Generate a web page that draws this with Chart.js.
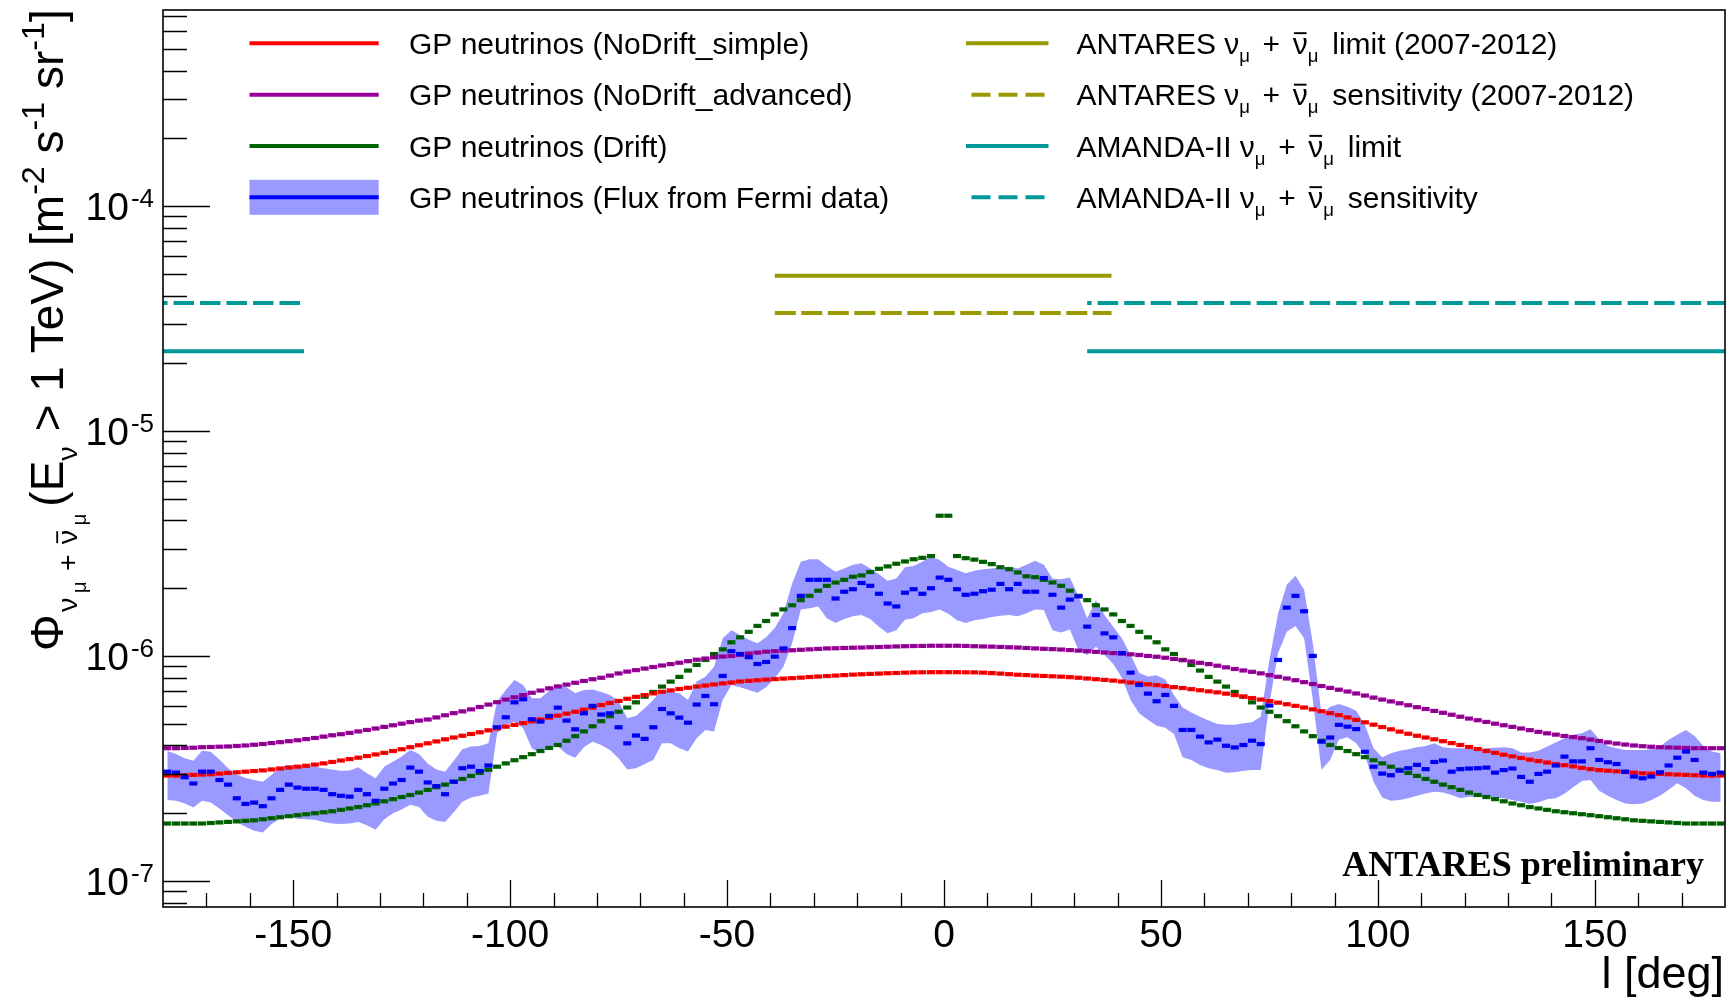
<!DOCTYPE html>
<html>
<head>
<meta charset="utf-8">
<title>Galactic plane neutrino flux vs longitude</title>
<script src="https://cdn.jsdelivr.net/npm/chart.js@4.4.1/dist/chart.umd.min.js"></script>
<style>
  html, body { margin: 0; padding: 0; background: #ffffff; }
  #wrap { width: 1731px; height: 1002px; position: relative; }
  canvas { display: block; }
</style>
</head>
<body>
<div id="wrap"><canvas id="chart" width="1731" height="1002"></canvas></div>
<script>
// ---------------------------------------------------------------------------
// Binning: 180 bins of 2 degrees in galactic longitude, from -180 to 180.
// All flux values below are in units of 1e-7 m^-2 s^-1 sr^-1 (E_nu > 1 TeV),
// one value per bin, ordered from l = -179 to l = +179.
// ---------------------------------------------------------------------------
const UNIT = 1e-7;
const BIN_LOW = -180;
const BIN_WIDTH = 2;

const noDriftSimple = [
  2.94, 2.94, 2.95, 2.96, 2.97, 2.98, 3.00, 3.02, 3.04, 3.06,
  3.08, 3.10, 3.13, 3.16, 3.19, 3.22, 3.25, 3.29, 3.33, 3.38,
  3.43, 3.48, 3.53, 3.59, 3.65, 3.71, 3.78, 3.85, 3.93, 4.01,
  4.09, 4.17, 4.26, 4.34, 4.42, 4.50, 4.58, 4.67, 4.76, 4.85,
  4.94, 5.03, 5.12, 5.22, 5.32, 5.43, 5.54, 5.65, 5.77, 5.89,
  6.05, 6.18, 6.31, 6.45, 6.58, 6.70, 6.82, 6.93, 7.03, 7.13,
  7.22, 7.31, 7.39, 7.47, 7.55, 7.62, 7.70, 7.75, 7.80, 7.85,
  7.89, 7.93, 7.97, 8.01, 8.06, 8.10, 8.14, 8.18, 8.22, 8.26,
  8.29, 8.32, 8.35, 8.38, 8.40, 8.43, 8.45, 8.46, 8.47, 8.47,
  8.47, 8.47, 8.46, 8.45, 8.43, 8.39, 8.35, 8.30, 8.25, 8.22,
  8.18, 8.15, 8.12, 8.09, 8.05, 8.00, 7.94, 7.88, 7.83, 7.77,
  7.70, 7.62, 7.55, 7.48, 7.42, 7.35, 7.27, 7.20, 7.12, 7.04,
  6.96, 6.89, 6.80, 6.70, 6.60, 6.50, 6.40, 6.30, 6.20, 6.10,
  6.00, 5.90, 5.79, 5.68, 5.57, 5.46, 5.33, 5.20, 5.07, 4.95,
  4.83, 4.72, 4.61, 4.51, 4.42, 4.34, 4.26, 4.18, 4.10, 4.02,
  3.94, 3.86, 3.78, 3.71, 3.64, 3.58, 3.52, 3.46, 3.41, 3.36,
  3.31, 3.27, 3.23, 3.18, 3.14, 3.11, 3.09, 3.07, 3.05, 3.03,
  3.01, 3.00, 2.99, 2.98, 2.97, 2.96, 2.95, 2.94, 2.94, 2.94
];

const noDriftAdvanced = [
  3.89, 3.89, 3.90, 3.91, 3.93, 3.94, 3.95, 3.96, 3.98, 4.00,
  4.03, 4.06, 4.10, 4.14, 4.18, 4.22, 4.27, 4.32, 4.38, 4.44,
  4.49, 4.55, 4.62, 4.69, 4.76, 4.84, 4.92, 5.00, 5.08, 5.16,
  5.22, 5.33, 5.45, 5.57, 5.67, 5.79, 5.93, 6.08, 6.23, 6.40,
  6.55, 6.70, 6.86, 7.02, 7.18, 7.32, 7.46, 7.60, 7.74, 7.88,
  8.00, 8.18, 8.36, 8.52, 8.65, 8.79, 8.93, 9.07, 9.20, 9.33,
  9.48, 9.62, 9.74, 9.86, 9.94, 10.0, 10.1, 10.25, 10.35, 10.45,
  10.5, 10.55, 10.6, 10.65, 10.7, 10.75, 10.8, 10.82, 10.85, 10.88,
  10.9, 10.93, 10.96, 10.99, 11.02, 11.05, 11.07, 11.08, 11.1, 11.1,
  11.1, 11.1, 11.08, 11.05, 11.02, 11.0, 10.97, 10.93, 10.9, 10.85,
  10.8, 10.76, 10.72, 10.68, 10.62, 10.56, 10.5, 10.43, 10.36, 10.3,
  10.24, 10.17, 10.1, 10.0, 9.92, 9.82, 9.7, 9.58, 9.45, 9.32,
  9.2, 9.05, 8.9, 8.75, 8.62, 8.5, 8.37, 8.22, 8.08, 7.94,
  7.8, 7.65, 7.5, 7.35, 7.21, 7.08, 6.95, 6.81, 6.67, 6.53,
  6.4, 6.28, 6.16, 6.04, 5.92, 5.81, 5.7, 5.59, 5.48, 5.37,
  5.27, 5.18, 5.09, 5.0, 4.92, 4.84, 4.76, 4.68, 4.6, 4.53,
  4.47, 4.41, 4.36, 4.31, 4.25, 4.19, 4.13, 4.08, 4.04, 4.0,
  3.97, 3.95, 3.93, 3.92, 3.91, 3.9, 3.89, 3.89, 3.89, 3.89
];

const drift = [
  1.80, 1.80, 1.80, 1.80, 1.80, 1.81, 1.82, 1.83, 1.84, 1.85,
  1.86, 1.88, 1.90, 1.92, 1.94, 1.96, 1.98, 2.00, 2.02, 2.04,
  2.07, 2.10, 2.13, 2.17, 2.21, 2.26, 2.31, 2.36, 2.41, 2.47,
  2.54, 2.61, 2.68, 2.76, 2.84, 2.93, 3.02, 3.12, 3.22, 3.33,
  3.44, 3.55, 3.66, 3.78, 3.90, 4.02, 4.20, 4.40, 4.62, 4.87,
  5.13, 5.40, 5.65, 5.90, 6.22, 6.59, 6.92, 7.31, 7.69, 8.07,
  8.61, 9.12, 9.60, 10.2, 10.7, 11.5, 12.1, 12.8, 13.6, 14.3,
  15.3, 16.1, 16.8, 17.7, 18.5, 19.5, 20.5, 21.2, 21.8, 22.5,
  22.8, 23.6, 24.4, 25.0, 25.7, 26.3, 26.9, 27.3, 27.8, 42.0,
  42.0, 27.8, 27.2, 26.8, 26.2, 25.6, 24.8, 24.3, 23.5, 22.6,
  22.4, 21.8, 21.2, 20.5, 19.5, 18.5, 17.7, 16.8, 16.1, 15.3,
  14.3, 13.6, 12.8, 12.1, 11.5, 10.7, 10.2, 9.60, 9.12, 8.61,
  8.07, 7.69, 7.31, 6.92, 6.59, 6.22, 5.90, 5.65, 5.40, 5.13,
  4.87, 4.62, 4.40, 4.20, 4.02, 3.90, 3.78, 3.66, 3.55, 3.44,
  3.33, 3.22, 3.12, 3.02, 2.93, 2.84, 2.76, 2.68, 2.61, 2.54,
  2.47, 2.41, 2.36, 2.31, 2.26, 2.21, 2.17, 2.13, 2.10, 2.07,
  2.04, 2.02, 2.00, 1.98, 1.96, 1.94, 1.92, 1.90, 1.88, 1.86,
  1.85, 1.84, 1.83, 1.82, 1.81, 1.80, 1.80, 1.80, 1.80, 1.80
];

const fermiFlux = [
  3.06, 3.03, 2.89, 2.71, 3.06, 3.06, 2.81, 2.68, 2.33, 2.20,
  2.23, 2.15, 2.33, 2.54, 2.68, 2.60, 2.57, 2.57, 2.54, 2.43,
  2.39, 2.37, 2.54, 2.43, 2.27, 2.57, 2.71, 2.81, 3.19, 3.06,
  2.74, 2.64, 2.43, 2.76, 3.17, 3.22, 3.08, 3.26, 4.82, 5.34,
  6.22, 6.42, 5.23, 5.11, 5.41, 5.89, 5.16, 4.72, 5.56, 6.00,
  5.49, 5.56, 4.82, 4.09, 4.43, 4.28, 4.82, 5.81, 5.56, 5.32,
  5.05, 6.08, 6.64, 6.10, 8.15, 10.5, 10.2, 9.87, 9.21, 9.40,
  9.93, 10.8, 13.3, 18.5, 21.8, 21.8, 21.8, 18.0, 19.3, 19.8,
  21.1, 20.5, 18.9, 17.1, 16.6, 19.1, 19.8, 18.9, 20.0, 22.3,
  21.8, 19.8, 18.7, 18.9, 19.4, 19.7, 20.9, 19.8, 20.9, 19.3,
  19.3, 22.2, 18.7, 16.4, 17.8, 18.4, 13.5, 15.2, 12.6, 12.1,
  10.3, 8.43, 7.43, 6.80, 6.29, 6.71, 6.00, 4.69, 4.69, 4.38,
  4.13, 4.25, 3.99, 3.92, 4.02, 4.20, 4.06, 6.02, 9.60, 16.4,
  18.5, 15.8, 10.0, 4.16, 4.34, 4.94, 4.85, 4.73, 3.75, 3.22,
  3.00, 2.95, 3.09, 3.17, 3.28, 3.14, 3.38, 3.43, 3.06, 3.14,
  3.16, 3.17, 3.19, 3.03, 3.11, 3.16, 2.90, 2.76, 2.99, 3.06,
  3.26, 3.57, 3.40, 3.40, 3.89, 3.45, 3.37, 3.31, 3.06, 2.91,
  2.86, 2.91, 3.04, 3.26, 3.53, 3.76, 3.45, 3.03, 2.99, 3.03
];

const fermiUpper = [
  3.78, 3.67, 3.51, 3.42, 3.79, 3.75, 3.47, 3.17, 2.97, 2.87,
  2.81, 2.76, 2.96, 3.20, 3.28, 3.25, 3.24, 3.22, 3.17, 3.13,
  3.09, 3.10, 3.20, 3.01, 2.86, 3.22, 3.39, 3.57, 3.82, 3.67,
  3.33, 3.13, 3.06, 3.42, 3.85, 3.96, 3.98, 4.09, 6.27, 7.06,
  7.82, 7.43, 6.49, 6.49, 7.01, 7.43, 7.26, 6.82, 7.06, 7.10,
  6.92, 6.71, 6.27, 5.28, 5.41, 5.85, 6.37, 7.06, 6.93, 6.82,
  6.37, 7.69, 8.09, 8.96, 12.0, 13.0, 12.4, 11.8, 11.4, 12.1,
  13.3, 15.5, 21.0, 26.2, 26.9, 26.9, 25.1, 23.7, 24.5, 25.4,
  25.8, 24.5, 23.1, 21.6, 22.1, 24.8, 25.1, 26.2, 27.6, 26.7,
  24.9, 24.1, 23.3, 23.9, 24.3, 24.5, 24.8, 24.9, 24.5, 25.4,
  26.5, 25.4, 22.1, 21.9, 22.3, 18.4, 14.7, 17.7, 15.2, 13.5,
  12.0, 10.1, 8.4, 8.1, 8.2, 7.85, 6.7, 5.9, 5.60, 5.37,
  5.16, 4.99, 4.94, 4.94, 5.02, 5.07, 5.37, 9.6, 15.5, 20.7,
  22.7, 19.7, 11.4, 5.52, 5.95, 6.12, 5.95, 5.71, 4.94, 3.89,
  3.55, 3.69, 3.79, 3.85, 3.93, 3.98, 4.09, 3.93, 3.89, 3.89,
  3.87, 3.87, 3.89, 3.91, 3.93, 3.89, 3.72, 3.72, 3.79, 3.96,
  4.12, 4.31, 4.46, 4.53, 4.72, 4.26, 3.98, 3.89, 3.82, 3.82,
  3.82, 3.85, 3.96, 4.24, 4.46, 4.69, 4.41, 3.98, 3.76, 3.69
];

const fermiLower = [
  2.29, 2.27, 2.21, 2.12, 2.27, 2.23, 2.10, 1.96, 1.83, 1.74,
  1.67, 1.64, 1.79, 1.89, 1.92, 1.89, 1.88, 1.87, 1.83, 1.80,
  1.79, 1.80, 1.83, 1.77, 1.69, 1.88, 2.00, 2.08, 2.18, 2.13,
  1.93, 1.85, 1.83, 2.02, 2.25, 2.35, 2.39, 2.45, 4.53, 4.94,
  5.11, 4.77, 3.89, 3.69, 3.98, 3.96, 3.67, 3.53, 3.93, 4.16,
  4.02, 3.82, 3.51, 3.13, 3.17, 3.31, 3.45, 4.09, 4.09, 3.89,
  3.76, 4.31, 4.69, 4.62, 6.37, 7.43, 7.26, 7.06, 6.87, 7.26,
  7.96, 8.96, 11.4, 16.1, 16.3, 16.6, 14.7, 14.0, 14.6, 15.0,
  15.2, 14.6, 13.5, 12.6, 13.0, 14.5, 14.7, 15.5, 15.7, 16.1,
  15.4, 14.4, 14.0, 14.4, 14.6, 14.9, 15.1, 15.2, 15.0, 15.5,
  16.1, 16.0, 13.0, 12.7, 13.1, 10.6, 10.1, 11.0, 10.1, 9.2,
  8.0, 6.37, 5.55, 5.2, 4.9, 4.8, 4.5, 3.55, 3.45, 3.28,
  3.17, 3.11, 3.03, 3.04, 3.09, 3.11, 3.11, 6.16, 10.3, 12.8,
  13.6, 12.0, 6.37, 3.12, 3.45, 4.24, 4.35, 4.09, 3.63, 2.76,
  2.35, 2.27, 2.29, 2.33, 2.39, 2.45, 2.49, 2.47, 2.41, 2.33,
  2.37, 2.37, 2.37, 2.35, 2.33, 2.29, 2.25, 2.20, 2.24, 2.31,
  2.33, 2.44, 2.61, 2.78, 2.81, 2.52, 2.39, 2.29, 2.21, 2.19,
  2.21, 2.29, 2.39, 2.54, 2.72, 2.58, 2.39, 2.29, 2.25, 2.25
];

// Experimental limits / sensitivities: flux level (m^-2 s^-1 sr^-1) and longitude span(s)
const antaresLimit = 4.90e-5;
const antaresSensitivity = 3.34e-5;
const antaresSpan = [-39, 38.6];
const amandaLimit = 2.26e-5;
const amandaSensitivity = 3.70e-5;
const amandaSpans = [[-180, -147.5], [33, 180]];

// Axis ranges and ticks
const X_RANGE = [-180, 180];
const Y_RANGE = [7.66e-8, 7.43e-4];
const xMajorTicks = [-150, -100, -50, 0, 50, 100, 150];
const xMinorStep = 10;
const yDecades = [-7, -6, -5, -4];

// Legend labels
const legendLeft = [
  'GP neutrinos (NoDrift_simple)',
  'GP neutrinos (NoDrift_advanced)',
  'GP neutrinos (Drift)',
  'GP neutrinos (Flux from Fermi data)'
];
const legendRightPrefix = ['ANTARES', 'ANTARES', 'AMANDA-II', 'AMANDA-II'];
const legendRightSuffix = ['limit (2007-2012)', 'sensitivity (2007-2012)', 'limit', 'sensitivity'];

// ---------------------------------------------------------------------------
const COLORS = {
  red: '#ff0000',
  purple: '#990099',
  green: '#006400',
  blue: '#0000ff',
  band: '#9999ff',
  olive: '#999900',
  teal: '#009999'
};
const SANS = "'Liberation Sans', Arial, Helvetica, sans-serif";
const SERIF = "'Liberation Serif', 'Times New Roman', serif";

const binCenter = i => BIN_LOW + BIN_WIDTH * (i + 0.5);
const toPoints = arr => arr.map((v, i) => ({ x: binCenter(i), y: v * UNIT }));

// Half the pixel width of one bin, so each bin is drawn as a horizontal bar
const halfBin = ctx => {
  const s = ctx.chart.scales.x;
  return Math.abs(s.getPixelForValue(BIN_WIDTH) - s.getPixelForValue(0)) / 2 - 0.3;
};

function histDataset(values, color, order) {
  return {
    isHist: true,
    data: toPoints(values),
    showLine: false,
    pointStyle: 'line',
    pointRadius: halfBin,
    pointHoverRadius: halfBin,
    pointBorderWidth: 4.2,
    pointHoverBorderWidth: 4.2,
    pointBorderColor: color,
    pointBackgroundColor: color,
    order
  };
}

function hLine(xs, y, color, dash, dashOffset) {
  return {
    data: [{ x: xs[0], y }, { x: xs[1], y }],
    borderColor: color,
    borderWidth: 4,
    borderDash: dash || [],
    borderDashOffset: dashOffset || 0,
    pointRadius: 0,
    pointHoverRadius: 0,
    fill: false,
    tension: 0,
    order: 5
  };
}

const datasets = [
  // Fermi-based flux uncertainty band (upper edge, then lower edge filled to it)
  { data: toPoints(fermiUpper), borderWidth: 0, pointRadius: 0, pointHoverRadius: 0, fill: false, tension: 0, order: 7 },
  { data: toPoints(fermiLower), borderWidth: 0, pointRadius: 0, pointHoverRadius: 0, fill: '-1',
    backgroundColor: COLORS.band, tension: 0, order: 7 },
  hLine(antaresSpan, antaresLimit, COLORS.olive),
  hLine(antaresSpan, antaresSensitivity, COLORS.olive, [21, 5.5], 0),
  ...amandaSpans.map(s => hLine(s, amandaLimit, COLORS.teal)),
  ...amandaSpans.map(s => hLine(s, amandaSensitivity, COLORS.teal, [20.5, 6], 16)),
  histDataset(drift, COLORS.green, 4),
  histDataset(noDriftAdvanced, COLORS.purple, 3),
  histDataset(noDriftSimple, COLORS.red, 2),
  histDataset(fermiFlux, COLORS.blue, 1)
];

// Small dark markers at each bin centre
const binMarkers = {
  id: 'binMarkers',
  afterDatasetsDraw(chart) {
    const ctx = chart.ctx;
    ctx.save();
    ctx.fillStyle = 'rgba(0,0,0,0.75)';
    chart.data.datasets.forEach((ds, i) => {
      if (!ds.isHist) return;
      chart.getDatasetMeta(i).data.forEach(el => {
        ctx.fillRect(Math.round(el.x) - 0.6, Math.round(el.y) - 0.6, 1.2, 1.2);
      });
    });
    ctx.restore();
  }
};

// Draw a run of text pieces with sub/superscripts; returns total advance
function drawRuns(ctx, x, y, runs, size, family) {
  let cx = x;
  for (const r of runs) {
    const fs = size * (r.s || 1);
    ctx.font = (r.bold ? 'bold ' : '') + fs.toFixed(2) + 'px ' + family;
    const w = ctx.measureText(r.t).width;
    const by = y + (r.dy || 0) * size;
    ctx.fillText(r.t, cx, by);
    if (r.bar) {
      ctx.fillRect(cx + w * 0.08, by - fs * 0.72, w * 0.84, Math.max(1.2, fs * 0.065));
    }
    cx += w + (r.gap || 0) * size;
  }
  return cx - x;
}

const numuRuns = [
  { t: 'ν' }, { t: 'μ', s: 0.62, dy: 0.27, gap: 0.42 },
  { t: '+', gap: 0.42 },
  { t: 'ν', bar: true }, { t: 'μ', s: 0.62, dy: 0.27, gap: 0.46 }
];

// ROOT-style frame, inward ticks, tick labels, titles, legend and label text
const rootDecor = {
  id: 'rootDecor',
  afterDraw(chart) {
    const { ctx, chartArea: a, scales: { x, y } } = chart;
    ctx.save();

    // ticks
    ctx.strokeStyle = '#000';
    ctx.lineWidth = 1.3;
    ctx.beginPath();
    for (let v = X_RANGE[0] + xMinorStep; v < X_RANGE[1]; v += xMinorStep) {
      const px = Math.round(x.getPixelForValue(v)) + 0.5;
      const len = xMajorTicks.includes(v) ? 27 : 14;
      ctx.moveTo(px, a.bottom);
      ctx.lineTo(px, a.bottom - len);
    }
    for (let e = -8; e <= -4; e++) {
      for (let m = 1; m <= 9; m++) {
        const v = m * Math.pow(10, e);
        if (v < Y_RANGE[0] || v > Y_RANGE[1]) continue;
        const py = Math.round(y.getPixelForValue(v)) + 0.5;
        const len = m === 1 ? 47 : 24;
        ctx.moveTo(a.left, py);
        ctx.lineTo(a.left + len, py);
      }
    }
    ctx.stroke();

    // frame
    ctx.lineWidth = 1.6;
    ctx.strokeRect(a.left, a.top, a.right - a.left, a.bottom - a.top);

    ctx.fillStyle = '#000';
    ctx.textBaseline = 'alphabetic';

    // x tick labels
    ctx.font = '39px ' + SANS;
    ctx.textAlign = 'center';
    xMajorTicks.forEach(v => ctx.fillText(String(v), x.getPixelForValue(v), a.bottom + 40));

    // y tick labels: 10^n
    yDecades.forEach(e => {
      const py = y.getPixelForValue(Math.pow(10, e));
      ctx.textAlign = 'right';
      ctx.font = '26px ' + SANS;
      const sup = String(e);
      const supW = ctx.measureText(sup).width;
      ctx.fillText(sup, 154, py + 1.5);
      ctx.font = '39px ' + SANS;
      ctx.fillText('10', 154 - supW - 2, py + 14.5);
    });

    // x axis title
    ctx.textAlign = 'right';
    ctx.font = '45px ' + SANS;
    ctx.fillText('l [deg]', a.right - 1, 988);

    // y axis title (rotated)
    ctx.save();
    ctx.translate(63, 651);
    ctx.rotate(-Math.PI / 2);
    ctx.textAlign = 'left';
    drawRuns(ctx, 0, 0, [
      { t: 'Φ', gap: 0.05 },
      { t: 'ν', s: 0.62, dy: 0.3, gap: 0.1 },
      { t: 'μ', s: 0.45, dy: 0.5, gap: 0.22 },
      { t: '+', s: 0.62, dy: 0.3, gap: 0.22 },
      { t: 'ν', s: 0.62, dy: 0.3, bar: true, gap: 0.1 },
      { t: 'μ', s: 0.45, dy: 0.5, gap: 0.15 },
      { t: '(E' },
      { t: 'ν', s: 0.62, dy: 0.3, gap: 0.05 },
      { t: ' > 1 TeV) [m' },
      { t: '-2', s: 0.7, dy: -0.42 },
      { t: ' s' },
      { t: '-1', s: 0.7, dy: -0.42 },
      { t: ' sr' },
      { t: '-1', s: 0.7, dy: -0.42 },
      { t: ']' }
    ], 46, SANS);
    ctx.restore();

    // "ANTARES preliminary"
    ctx.textAlign = 'right';
    ctx.font = 'bold 36px ' + SERIF;
    ctx.fillText('ANTARES preliminary', 1704, 876);

    // legend
    const rows = [43.3, 94.8, 146, 197.3];
    const lx0 = 249.5, lx1 = 378.7, ltx = 409;
    const rx0 = 966, rx1 = 1048.5, rtx = 1076.5;
    const leftColors = [COLORS.red, COLORS.purple, COLORS.green, COLORS.blue];

    ctx.lineCap = 'butt';
    // band sample
    ctx.fillStyle = COLORS.band;
    ctx.fillRect(lx0, rows[3] - 17.5, lx1 - lx0, 35);
    leftColors.forEach((c, i) => {
      ctx.strokeStyle = c;
      ctx.lineWidth = 4;
      ctx.setLineDash([]);
      ctx.beginPath();
      ctx.moveTo(lx0, rows[i]);
      ctx.lineTo(lx1, rows[i]);
      ctx.stroke();
    });
    const rightStyles = [
      { c: COLORS.olive, dash: false },
      { c: COLORS.olive, dash: true },
      { c: COLORS.teal, dash: false },
      { c: COLORS.teal, dash: true }
    ];
    rightStyles.forEach((st, i) => {
      ctx.strokeStyle = st.c;
      ctx.lineWidth = 4;
      ctx.beginPath();
      if (st.dash) {
        ctx.setLineDash([19, 8]);
        ctx.moveTo(rx0 + 5.5, rows[i]);
        ctx.lineTo(rx1 - 2.5, rows[i]);
      } else {
        ctx.setLineDash([]);
        ctx.moveTo(rx0, rows[i]);
        ctx.lineTo(rx1, rows[i]);
      }
      ctx.stroke();
    });
    ctx.setLineDash([]);

    ctx.fillStyle = '#000';
    ctx.textAlign = 'left';
    ctx.font = '30px ' + SANS;
    legendLeft.forEach((t, i) => ctx.fillText(t, ltx, rows[i] + 10.5));
    legendRightPrefix.forEach((p, i) => {
      drawRuns(ctx, rtx, rows[i] + 10.5, [
        { t: p + ' ' }, ...numuRuns, { t: legendRightSuffix[i] }
      ], 30, SANS);
    });

    ctx.restore();
  }
};

new Chart(document.getElementById('chart'), {
  type: 'line',
  data: { datasets },
  options: {
    responsive: false,
    devicePixelRatio: 1,
    animation: false,
    events: [],
    layout: { padding: { left: 163, right: 6, top: 10, bottom: 95 } },
    plugins: {
      legend: { display: false },
      tooltip: { enabled: false },
      filler: { propagate: false }
    },
    scales: {
      x: { type: 'linear', min: X_RANGE[0], max: X_RANGE[1], display: false },
      y: { type: 'logarithmic', min: Y_RANGE[0], max: Y_RANGE[1], display: false }
    }
  },
  plugins: [binMarkers, rootDecor]
});
</script>
</body>
</html>
